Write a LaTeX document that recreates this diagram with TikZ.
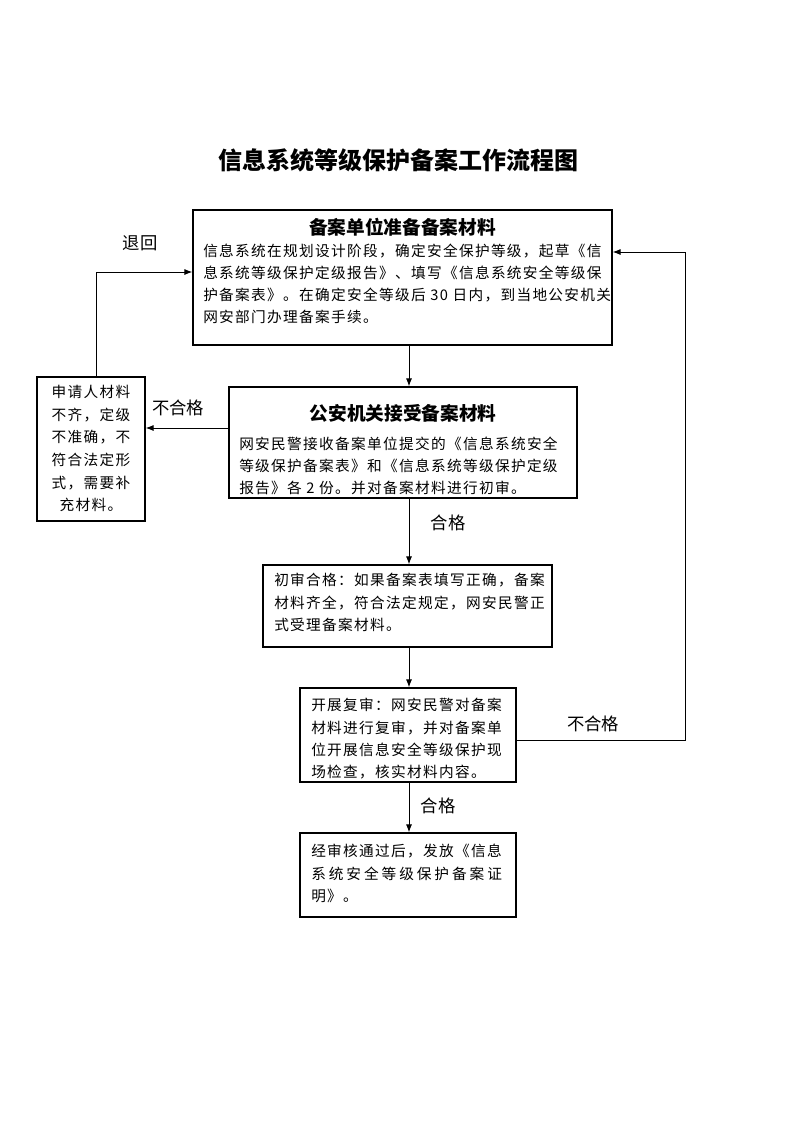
\documentclass[tikz,border=0pt]{standalone}
\usepackage{fontspec}
\setmainfont{Noto Sans CJK SC}
\newfontfamily\bodyfont[LetterSpace=9]{Noto Sans CJK SC}
\usetikzlibrary{arrows.meta}
\begin{document}
\begin{tikzpicture}[x=0.75pt,y=-0.75pt,
  box/.style={draw, line width=0.9pt, inner sep=0pt},
  txt/.style={inner sep=0pt, align=left, font={\bodyfont\fontsize{11}{16.75}\selectfont}},
  txtb/.style={inner sep=0pt, align=left, font={\bodyfont\fontsize{11}{16.5}\selectfont}},
  ctxt/.style={inner sep=0pt, align=center, font={\bodyfont\fontsize{11}{17}\selectfont}},
  head/.style={inner sep=0pt, font={\bfseries\fontsize{14}{16}\selectfont}},
  lbl/.style={inner sep=0pt, font={\fontsize{13}{15}\selectfont}},
  arr/.style={line width=0.7pt, -{Latex[length=6pt,width=4.5pt]}}]
\fill[white] (0,0) rectangle (793,1122);
\useasboundingbox (0,0) rectangle (793,1122);

% title
\node[inner sep=0pt, font={\bfseries\fontsize{18}{21}\selectfont}] (title) at (398,160) {信息系统等级保护备案工作流程图};

% boxes
\node[box, minimum width=314.25pt, minimum height=101.25pt] (b1) at (402.5,277.5) {};
\node[box, minimum width=81pt, minimum height=108pt] (b2) at (91,449) {};
\node[box, minimum width=261pt, minimum height=83.25pt] (b3) at (403,442.5) {};
\node[box, minimum width=216.75pt, minimum height=61.5pt] (b4) at (407.5,606) {};
\node[box, minimum width=162pt, minimum height=70.5pt] (b5) at (408,735) {};
\node[box, minimum width=162pt, minimum height=63pt] (b6) at (408,875) {};

% texts
\node[head] (h1) at (402.5,227) {备案单位准备备案材料};
\node[txtb, anchor=north west] (t1) at (203,244) {信息系统在规划设计阶段，确定安全保护等级，起草《信\\息系统等级保护定级报告》、填写《信息系统安全等级保\\护备案表》。在确定安全等级后 30 日内，到当地公安机关\\网安部门办理备案手续。};

\node[ctxt] (t2) at (91,448.5) {申请人材料\\不齐，定级\\不准确，不\\符合法定形\\式，需要补\\充材料。};

\node[head] (h3) at (403,413) {公安机关接受备案材料};
\node[txtb, anchor=north west] (t3) at (239,436.5) {网安民警接收备案单位提交的《信息系统安全\\等级保护备案表》和《信息系统等级保护定级\\报告》各 2 份。并对备案材料进行初审。};

\node[txt, anchor=north west] (t4) at (274,573) {初审合格：如果备案表填写正确，备案\\材料齐全，符合法定规定，网安民警正\\式受理备案材料。};

\node[txt, anchor=north west] (t5) at (311,698) {开展复审：网安民警对备案\\材料进行复审，并对备案单\\位开展信息安全等级保护现\\场检查，核实材料内容。};

\node[txt, anchor=north west] (t6) at (311,844) {经审核通过后，发放《信息\\\makebox[143pt][s]{系\hfill 统\hfill 安\hfill 全\hfill 等\hfill 级\hfill 保\hfill 护\hfill 备\hfill 案\hfill 证}\\明》。};

% labels
\node[lbl] (l1) at (140,243) {退回};
\node[lbl] (l2) at (178,408) {不合格};
\node[lbl] (l3) at (448,523) {合格};
\node[lbl] (l4) at (593,724) {不合格};
\node[lbl] (l5) at (438,806) {合格};

% helper coordinates
\coordinate (vx) at (409,0);
\coordinate (lc) at (96,272);
\coordinate (my) at (0,428);
\coordinate (r1) at (685,740);
\coordinate (r2) at (685,252);

% connectors
\draw[arr] (b1.south -| vx) -- (b3.north -| vx);
\draw[arr] (b3.west |- my) -- (b2.east |- my);
\draw[arr] (lc |- b2.north) -- (lc) -- (lc -| b1.west);
\draw[arr] (b3.south -| vx) -- (b4.north -| vx);
\draw[arr] (b4.south -| vx) -- (b5.north -| vx);
\draw[arr] (r1 -| b5.east) -- (r1) -- (r2) -- (r2 -| b1.east);
\draw[arr] (b5.south -| vx) -- (b6.north -| vx);
\end{tikzpicture}
\end{document}
